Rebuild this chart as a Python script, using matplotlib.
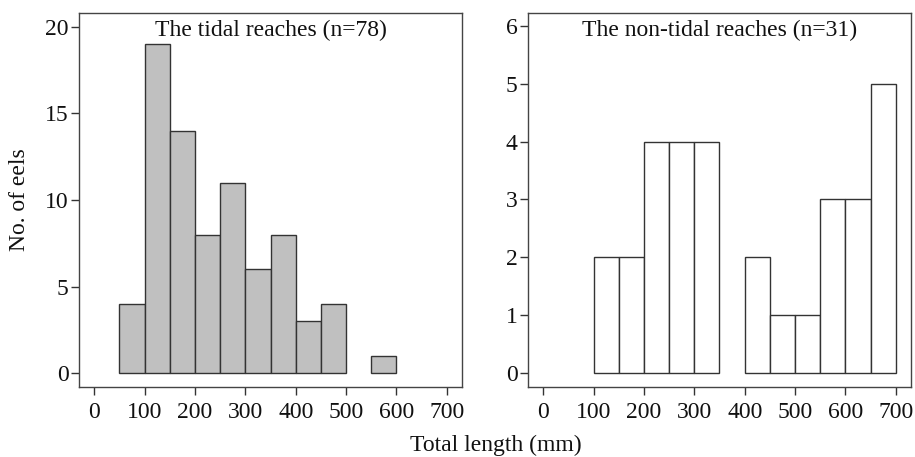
import matplotlib
matplotlib.use("Agg")
import matplotlib.pyplot as plt
import numpy as np

plt.rcParams['font.family'] = ['Liberation Serif', 'DejaVu Serif']

bin_edges = [0, 50, 100, 150, 200, 250, 300, 350, 400, 450, 500, 550, 600, 650, 700]
tidal_counts = [0, 4, 19, 14, 8, 11, 6, 8, 3, 4, 0, 1, 0, 0]
nontidal_counts = [0, 0, 2, 2, 4, 4, 4, 0, 2, 1, 1, 3, 3, 5]
x_ticks = [0, 100, 200, 300, 400, 500, 600, 700]
tidal_title = "The tidal reaches (n=78)"
nontidal_title = "The non-tidal reaches (n=31)"

fig = plt.figure(figsize=(9.15, 4.57), dpi=100)
W, H = 915, 457
ax1 = fig.add_axes([79 / W, 1 - 387 / H, 383 / W, 374 / H])
ax2 = fig.add_axes([528 / W, 1 - 387 / H, 383 / W, 374 / H])

edges = np.array(bin_edges)
lefts = edges[:-1]
widths = np.diff(edges)

def draw(ax, counts, color, title, ylim, yticks):
    counts = np.array(counts)
    mask = counts > 0
    ax.bar(lefts[mask], counts[mask], width=widths[mask], align='edge',
           color=color, edgecolor='#333333', linewidth=1.0)
    ax.set_xlim(-30, 730)
    ax.set_ylim(*ylim)
    ax.set_xticks(x_ticks)
    ax.set_yticks(yticks)
    ax.tick_params(direction='out', length=6, width=1, colors='#333333',
                   labelcolor='#111111', labelsize=17)
    ax.tick_params(axis='x', pad=5)
    ax.tick_params(axis='y', pad=1.5)
    for s in ax.spines.values():
        s.set_color('#444444')
        s.set_linewidth(1.0)
    ax.text(0.5, 0.952, title, transform=ax.transAxes, ha='center', va='center',
            fontsize=17, color='#111111')

draw(ax1, tidal_counts, '#c0c0c0', tidal_title, (-0.8, 20.8), [0, 5, 10, 15, 20])
draw(ax2, nontidal_counts, 'white', nontidal_title, (-0.24, 6.22), [0, 1, 2, 3, 4, 5, 6])

fig.text(20 / W, 1 - 200 / H, "No. of eels", rotation=90, ha='center', va='center',
         fontsize=17, color='#111111')
fig.text(496 / W, 1 - 445 / H, "Total length (mm)", ha='center', va='center',
         fontsize=17, color='#111111')

fig.savefig("out.png", dpi=100)
